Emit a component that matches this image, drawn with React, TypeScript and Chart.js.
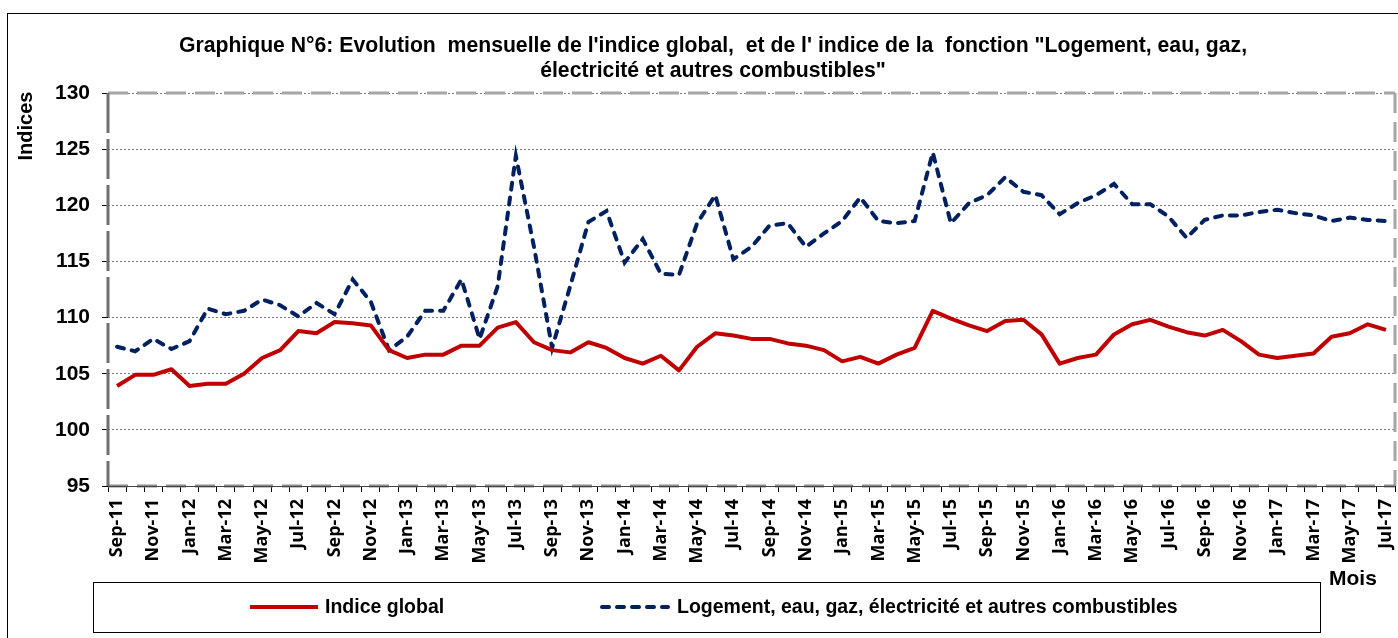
import React, { useEffect, useRef } from 'react';
import { Chart, registerables } from 'chart.js';

Chart.register(...registerables);

const months: string[] = [
  'Sep-11', 'Oct-11', 'Nov-11', 'Dec-11',
  'Jan-12', 'Feb-12', 'Mar-12', 'Apr-12', 'May-12', 'Jun-12', 'Jul-12', 'Aug-12', 'Sep-12', 'Oct-12', 'Nov-12', 'Dec-12',
  'Jan-13', 'Feb-13', 'Mar-13', 'Apr-13', 'May-13', 'Jun-13', 'Jul-13', 'Aug-13', 'Sep-13', 'Oct-13', 'Nov-13', 'Dec-13',
  'Jan-14', 'Feb-14', 'Mar-14', 'Apr-14', 'May-14', 'Jun-14', 'Jul-14', 'Aug-14', 'Sep-14', 'Oct-14', 'Nov-14', 'Dec-14',
  'Jan-15', 'Feb-15', 'Mar-15', 'Apr-15', 'May-15', 'Jun-15', 'Jul-15', 'Aug-15', 'Sep-15', 'Oct-15', 'Nov-15', 'Dec-15',
  'Jan-16', 'Feb-16', 'Mar-16', 'Apr-16', 'May-16', 'Jun-16', 'Jul-16', 'Aug-16', 'Sep-16', 'Oct-16', 'Nov-16', 'Dec-16',
  'Jan-17', 'Feb-17', 'Mar-17', 'Apr-17', 'May-17', 'Jun-17', 'Jul-17',
];

const indiceGlobal: number[] = [
  103.9, 104.9, 104.9, 105.4,
  103.9, 104.1, 104.1, 105.0, 106.4, 107.1, 108.8, 108.6, 109.6, 109.5, 109.3, 107.1,
  106.4, 106.7, 106.7, 107.5, 107.5, 109.1, 109.6, 107.8, 107.1, 106.9, 107.8, 107.3,
  106.4, 105.9, 106.6, 105.3, 107.4, 108.6, 108.4, 108.1, 108.1, 107.7, 107.5, 107.1,
  106.1, 106.5, 105.9, 106.7, 107.3, 110.6, 109.9, 109.3, 108.8, 109.7, 109.8, 108.5,
  105.9, 106.4, 106.7, 108.5, 109.4, 109.8, 109.2, 108.7, 108.4, 108.9, 107.9, 106.7,
  106.4, 106.6, 106.8, 108.3, 108.6, 109.4, 108.9,
];

const logement: number[] = [
  107.4, 107.0, 108.1, 107.2,
  107.9, 110.8, 110.3, 110.6, 111.6, 111.1, 110.1, 111.3, 110.3, 113.4, 111.4, 107.1,
  108.3, 110.6, 110.6, 113.4, 108.1, 112.8, 124.4, 116.3, 107.3, 112.8, 118.5, 119.5,
  114.9, 117.0, 113.9, 113.8, 118.4, 120.9, 115.2, 116.3, 118.2, 118.4, 116.3, 117.5,
  118.6, 120.7, 118.6, 118.4, 118.6, 124.7, 118.4, 120.2, 120.9, 122.5, 121.2, 120.9,
  119.2, 120.2, 120.9, 121.9, 120.1, 120.1, 119.0, 117.1, 118.7, 119.1, 119.1, 119.4,
  119.6, 119.3, 119.1, 118.6, 118.9, 118.7, 118.6,
];

const seriesNames: string[] = [
  'Indice global',
  'Logement, eau, gaz, électricité et autres combustibles',
];

const titleLines: string[] = [
  'Graphique N°6: Evolution  mensuelle de l\'indice global,  et de l\' indice de la  fonction "Logement, eau, gaz,',
  'électricité et autres combustibles"',
];

const yMin = 95;
const yMax = 130;
const yStep = 5;
const yAxisTitle = 'Indices';
const xAxisTitle = 'Mois';

const RED = '#C00000';
const BLUE = '#002060';
const ARIAL = '"Liberation Sans", Arial, sans-serif';

const decorPlugin = {
  id: 'decor',
  beforeDatasetsDraw(chart: any) {
    const { ctx, chartArea } = chart;
    const { left, right, top, bottom } = chartArea;
    ctx.save();
    ctx.strokeStyle = '#a6a6a6';
    ctx.lineWidth = 3;
    ctx.setLineDash([20, 9]);
    ctx.beginPath();
    ctx.moveTo(left, top);
    ctx.lineTo(right, top);
    ctx.stroke();
    ctx.beginPath();
    ctx.moveTo(right, top);
    ctx.lineTo(right, bottom);
    ctx.stroke();
    ctx.strokeStyle = '#8c8c8c';
    ctx.setLineDash([20, 9]);
    ctx.beginPath();
    ctx.moveTo(left, bottom);
    ctx.lineTo(right, bottom);
    ctx.stroke();
    ctx.strokeStyle = '#707070';
    ctx.setLineDash([40, 6]);
    ctx.beginPath();
    ctx.moveTo(left, top);
    ctx.lineTo(left, bottom);
    ctx.stroke();
    ctx.setLineDash([]);
    ctx.lineWidth = 1;
    ctx.strokeStyle = '#444';
    ctx.beginPath();
    ctx.moveTo(left, bottom + 0.5);
    ctx.lineTo(right, bottom + 0.5);
    ctx.stroke();
    ctx.restore();
  },
  afterDraw(chart: any) {
    const { ctx } = chart;
    ctx.save();
    ctx.strokeStyle = '#000';
    ctx.lineWidth = 1;
    ctx.strokeRect(7.5, 13.5, 1400, 640);

    ctx.fillStyle = '#000';
    ctx.font = `bold 21.2px ${ARIAL}`;
    ctx.textAlign = 'center';
    ctx.textBaseline = 'alphabetic';
    ctx.fillText(titleLines[0], 713, 52);
    ctx.fillText(titleLines[1], 713, 77);

    ctx.save();
    ctx.translate(32, 126);
    ctx.rotate(-Math.PI / 2);
    ctx.font = `bold 20px ${ARIAL}`;
    ctx.textAlign = 'center';
    ctx.textBaseline = 'alphabetic';
    ctx.fillText(yAxisTitle, 0, 0);
    ctx.restore();

    ctx.font = `bold 21px ${ARIAL}`;
    ctx.textAlign = 'left';
    ctx.fillText(xAxisTitle, 1329, 585);

    ctx.lineWidth = 1;
    ctx.strokeStyle = '#000';
    ctx.strokeRect(93.5, 582.5, 1227, 50);
    const ly = 607;
    ctx.lineWidth = 4;
    ctx.strokeStyle = RED;
    ctx.beginPath();
    ctx.moveTo(250, ly);
    ctx.lineTo(318, ly);
    ctx.stroke();
    ctx.strokeStyle = BLUE;
    ctx.lineCap = 'round';
    ctx.setLineDash([7, 8]);
    ctx.beginPath();
    ctx.moveTo(602, ly);
    ctx.lineTo(668, ly);
    ctx.stroke();
    ctx.setLineDash([]);
    ctx.lineCap = 'butt';
    ctx.font = `bold 19.5px ${ARIAL}`;
    ctx.textBaseline = 'middle';
    ctx.textAlign = 'left';
    ctx.fillStyle = '#000';
    ctx.fillText(seriesNames[0], 325, ly + 1);
    ctx.fillText(seriesNames[1], 677, ly + 1);
    ctx.restore();
  },
};

export default function App() {
  const ref = useRef<HTMLCanvasElement>(null);
  useEffect(() => {
    if (!ref.current) return;
    const chart = new Chart(ref.current, {
      type: 'line',
      data: {
        labels: months,
        datasets: [
          {
            label: seriesNames[0],
            data: indiceGlobal,
            borderColor: RED,
            backgroundColor: RED,
            borderWidth: 4,
            pointRadius: 0,
            tension: 0,
            borderJoinStyle: 'round',
            fill: false,
          },
          {
            label: seriesNames[1],
            data: logement,
            borderColor: BLUE,
            backgroundColor: BLUE,
            borderWidth: 4,
            borderDash: [7, 8],
            borderCapStyle: 'round',
            pointRadius: 0,
            tension: 0,
            fill: false,
          },
        ],
      },
      options: {
        responsive: false,
        animation: false,
        layout: { padding: { top: 93, left: 0, right: 3, bottom: 0 } },
        plugins: {
          legend: { display: false },
          title: { display: false },
          tooltip: { enabled: false },
        },
        scales: {
          x: {
            type: 'category',
            offset: true,
            grid: {
              offset: true,
              drawOnChartArea: false,
              drawTicks: true,
              tickLength: 6,
              tickColor: '#000',
              tickWidth: 1,
              color: '#000',
            },
            border: { display: false },
            ticks: {
              autoSkip: false,
              maxRotation: 90,
              minRotation: 90,
              padding: 7,
              color: '#000',
              font: { family: '"Open Sans", "Noto Sans", sans-serif', weight: 'bold', size: 18 },
              callback: function (this: any, val: any, index: number) {
                return index % 2 === 0 ? this.getLabelForValue(val) : '';
              },
            },
            afterFit: (axis: any) => {
              axis.height = 152;
              axis.paddingLeft = 0;
              axis.paddingRight = 0;
            },
          },
          y: {
            min: yMin,
            max: yMax,
            grid: {
              color: '#7f7f7f',
              lineWidth: 1,
              tickLength: 6,
              tickColor: '#000',
              tickWidth: 1,
            },
            border: { display: false, dash: [2, 2] },
            ticks: {
              stepSize: yStep,
              padding: 12,
              color: '#000',
              font: { family: ARIAL, weight: 'bold', size: 21 },
            },
            afterFit: (axis: any) => {
              axis.width = 108;
              axis.paddingTop = 0;
              axis.paddingBottom = 0;
            },
          },
        },
      },
      plugins: [decorPlugin],
    });
    return () => chart.destroy();
  }, []);
  return (
    <div style={{ position: 'absolute', left: 0, top: 0, width: 1398, height: 638, background: '#fff' }}>
      <canvas ref={ref} width={1398} height={638} style={{ display: 'block' }} />
    </div>
  );
}
